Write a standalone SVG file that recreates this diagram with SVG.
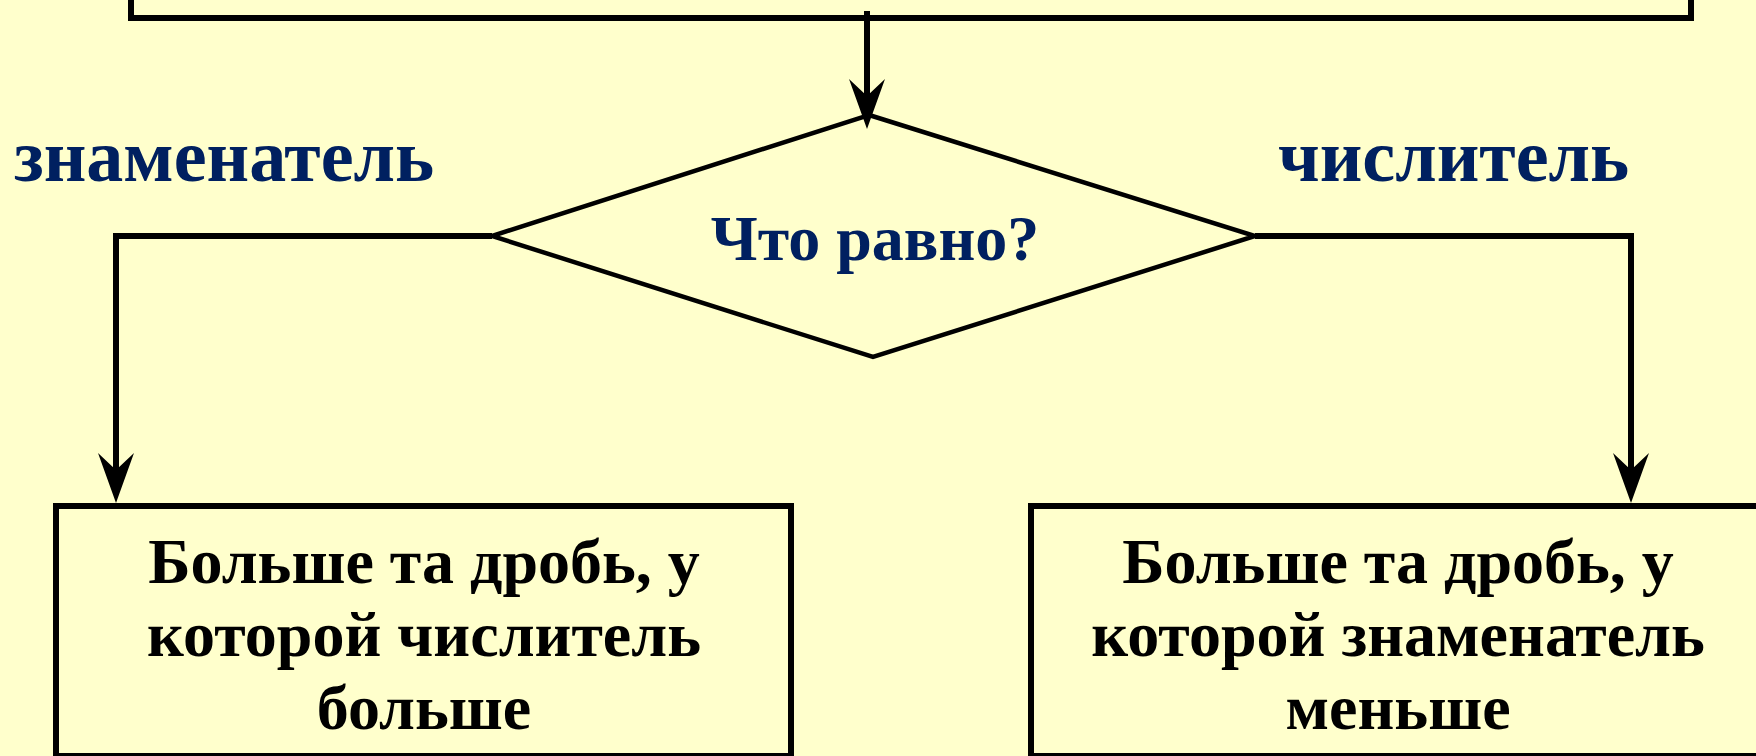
<svg xmlns="http://www.w3.org/2000/svg" width="1756" height="756" viewBox="0 0 1756 756">
  <defs>
    <style>
      .bg { fill: #FFFFCC; }
      .box { fill: #FFFFCC; stroke: #000; stroke-width: 6; }
      .dia { fill: #FFFFCC; stroke: #000; stroke-width: 4.5; stroke-linejoin: miter; }
      .conn { fill: none; stroke: #000; stroke-width: 6; stroke-linejoin: miter; }
      .lbl { font-family: "Liberation Serif", "Times New Roman", serif; font-weight: bold; fill: #002060; }
      .txt { font-family: "Liberation Serif", "Times New Roman", serif; font-weight: bold; fill: #000; font-size: 64px; text-anchor: middle; }
    </style>
    <marker id="arr" markerUnits="userSpaceOnUse" markerWidth="52" markerHeight="38" refX="17" refY="18" orient="auto" overflow="visible">
      <path d="M0,0 L50,18 L0,36 L17,18 Z" fill="#000"/>
    </marker>
  </defs>
  <rect class="bg" x="0" y="0" width="1756" height="756"/>

  <g id="node-top">
    <rect class="box" x="131" y="-120" width="1560" height="138"/>
  </g>

  <g id="node-decision">
    <polygon class="dia" points="869,115 1255,236 873,357 492,236"/>
    <text class="lbl" x="875" y="260" font-size="64" text-anchor="middle">Что равно?</text>
  </g>

  <g id="node-left">
    <rect class="box" x="56" y="506" width="735" height="250"/>
    <text class="txt" x="424" y="583">Больше та дробь, у</text>
    <text class="txt" x="424" y="656">которой числитель</text>
    <text class="txt" x="424" y="729">больше</text>
  </g>

  <g id="node-right">
    <rect class="box" x="1031" y="506" width="735" height="250"/>
    <text class="txt" x="1398" y="583">Больше та дробь, у</text>
    <text class="txt" x="1398" y="656">которой знаменатель</text>
    <text class="txt" x="1398" y="729">меньше</text>
  </g>

  <g id="connectors">
    <path class="conn" d="M867,11 V96" marker-end="url(#arr)"/>
    <path class="conn" d="M492,236 H116 V470" marker-end="url(#arr)"/>
    <path class="conn" d="M1255,236 H1631 V470" marker-end="url(#arr)"/>
  </g>

  <g id="labels">
    <text class="lbl" x="14" y="181" font-size="74">знаменатель</text>
    <text class="lbl" x="1278" y="181" font-size="74">числитель</text>
  </g>
</svg>
